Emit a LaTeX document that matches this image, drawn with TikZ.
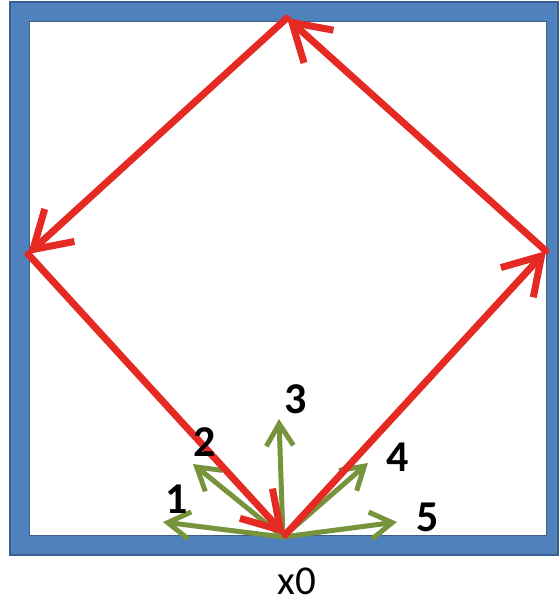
\documentclass[tikz,border=0pt]{standalone}
\usepackage{fontspec}
\setmainfont{Carlito}
\usetikzlibrary{arrows.meta}
\definecolor{frameblue}{HTML}{4F81BD}
\definecolor{framedark}{HTML}{3A5F8F}
\definecolor{redray}{HTML}{E52A24}
\definecolor{greenray}{HTML}{77933C}
\tikzset{
  redarrow/.style={draw=redray, line width=7pt, line cap=round,
    -{Straight Barb[length=36pt,width=44pt,line width=7pt]}},
  greenarrow/.style={draw=greenray, line width=5pt,
    -{Straight Barb[length=22pt,width=27pt,line width=5pt]}},
  numlabel/.style={font=\bfseries\fontsize{44}{44}\selectfont, inner sep=0pt},
}
\begin{document}
\begin{tikzpicture}[x=1pt,y=-1pt]
\useasboundingbox (0,0) rectangle (558,603);
\fill[white] (0,0) rectangle (558,603);
% frame
\fill[frameblue, even odd rule] (10,2) rectangle (558,555) (29,21) rectangle (546,535);
\draw[framedark, line width=1.2pt] (10,2) rectangle (558,555);
\draw[framedark, line width=1pt] (29,21) rectangle (546,535);
% green rays
\coordinate (O) at (283,537);
\coordinate (g1) at (163,522);
\coordinate (g2) at (193,464);
\coordinate (g3) at (279,419);
\coordinate (g4) at (368,463);
\coordinate (g5) at (397,522);
\foreach \g in {g1,g2,g3,g4,g5} \draw[greenarrow] (O) -- (\g);
% diamond vertices
\coordinate (B) at (285,535);
\coordinate (R) at (546,251);
\coordinate (T) at (287,18);
\coordinate (L) at (28,254);
\draw[redarrow] (B) -- (R);
\draw[redarrow] (R) -- (T);
\draw[redarrow] (T) -- (L);
\draw[redarrow] (L) -- (B);
% labels
\node[numlabel] (n1) at (177,499) {1};
\node[numlabel] (n2) at (205,442) {2};
\node[numlabel] (n3) at (296,399) {3};
\node[numlabel] (n4) at (398,457) {4};
\node[numlabel] (n5) at (428,517) {5};
\node[font=\fontsize{41}{41}\selectfont, inner sep=0pt, anchor=base] (x0) at (297,594) {x0};
\end{tikzpicture}
\end{document}
